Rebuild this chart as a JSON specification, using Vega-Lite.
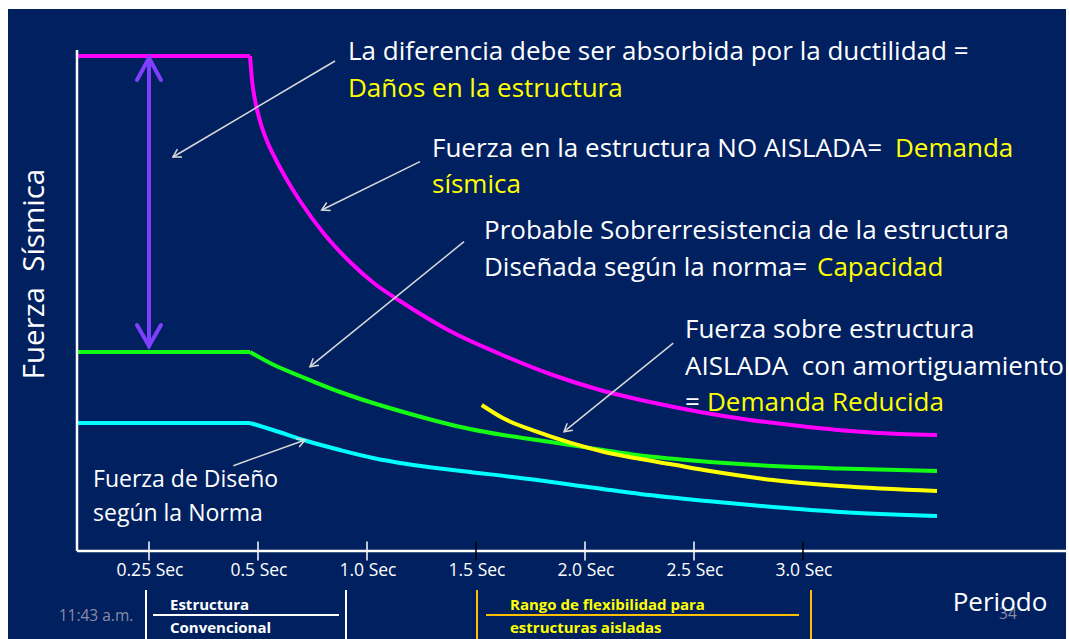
{
  "$schema": "https://vega.github.io/schema/vega-lite/v6.json",
  "width": 1058,
  "height": 630,
  "autosize": {"type": "none"},
  "padding": {"left": 8, "top": 9, "right": 3, "bottom": 0},
  "background": "#FFFFFF",
  "config": {
    "view": {"stroke": null, "fill": "#002060"},
    "text": {"font": "Open Sans"}
  },
  "datasets": {
    "curvas": [
      {"serie": "Demanda sísmica", "tramo": "meseta", "x": 0, "y": 99},
      {"serie": "Demanda sísmica", "tramo": "meseta", "x": 0.4817, "y": 99},
      {"serie": "Demanda sísmica", "tramo": "caida", "x": 0.4817, "y": 99},
      {"serie": "Demanda sísmica", "tramo": "caida", "x": 0.4862, "y": 94.2},
      {"serie": "Demanda sísmica", "tramo": "caida", "x": 0.4931, "y": 90.2},
      {"serie": "Demanda sísmica", "tramo": "caida", "x": 0.5092, "y": 86.0},
      {"serie": "Demanda sísmica", "tramo": "caida", "x": 0.5413, "y": 82.0},
      {"serie": "Demanda sísmica", "tramo": "caida", "x": 0.578, "y": 78.6},
      {"serie": "Demanda sísmica", "tramo": "caida", "x": 0.633, "y": 74.2},
      {"serie": "Demanda sísmica", "tramo": "caida", "x": 0.6927, "y": 70.0},
      {"serie": "Demanda sísmica", "tramo": "caida", "x": 0.8073, "y": 63.2},
      {"serie": "Demanda sísmica", "tramo": "caida", "x": 0.922, "y": 57.8},
      {"serie": "Demanda sísmica", "tramo": "caida", "x": 1.0367, "y": 53.4},
      {"serie": "Demanda sísmica", "tramo": "caida", "x": 1.1514, "y": 50.0},
      {"serie": "Demanda sísmica", "tramo": "caida", "x": 1.3807, "y": 44.0},
      {"serie": "Demanda sísmica", "tramo": "caida", "x": 1.6101, "y": 39.4},
      {"serie": "Demanda sísmica", "tramo": "caida", "x": 1.8394, "y": 35.4},
      {"serie": "Demanda sísmica", "tramo": "caida", "x": 2.0688, "y": 32.2},
      {"serie": "Demanda sísmica", "tramo": "caida", "x": 2.2982, "y": 29.8},
      {"serie": "Demanda sísmica", "tramo": "caida", "x": 2.5275, "y": 27.8},
      {"serie": "Demanda sísmica", "tramo": "caida", "x": 2.7569, "y": 26.2},
      {"serie": "Demanda sísmica", "tramo": "caida", "x": 2.9862, "y": 25.0},
      {"serie": "Demanda sísmica", "tramo": "caida", "x": 3.2156, "y": 24.0},
      {"serie": "Demanda sísmica", "tramo": "caida", "x": 3.445, "y": 23.4},
      {"serie": "Demanda sísmica", "tramo": "caida", "x": 3.6147, "y": 23.2},

      {"serie": "Capacidad", "tramo": "meseta", "x": 0, "y": 39.8},
      {"serie": "Capacidad", "tramo": "meseta", "x": 0.4817, "y": 39.8},
      {"serie": "Capacidad", "tramo": "caida", "x": 0.4817, "y": 39.8},
      {"serie": "Capacidad", "tramo": "caida", "x": 0.5688, "y": 37.3},
      {"serie": "Capacidad", "tramo": "caida", "x": 0.6927, "y": 35.0},
      {"serie": "Capacidad", "tramo": "caida", "x": 0.8761, "y": 31.8},
      {"serie": "Capacidad", "tramo": "caida", "x": 1.0275, "y": 29.6},
      {"serie": "Capacidad", "tramo": "caida", "x": 1.1835, "y": 27.6},
      {"serie": "Capacidad", "tramo": "caida", "x": 1.3349, "y": 25.8},
      {"serie": "Capacidad", "tramo": "caida", "x": 1.4725, "y": 24.4},
      {"serie": "Capacidad", "tramo": "caida", "x": 1.6239, "y": 23.2},
      {"serie": "Capacidad", "tramo": "caida", "x": 1.7798, "y": 22.2},
      {"serie": "Capacidad", "tramo": "caida", "x": 1.9312, "y": 21.2},
      {"serie": "Capacidad", "tramo": "caida", "x": 2.0826, "y": 20.2},
      {"serie": "Capacidad", "tramo": "caida", "x": 2.2385, "y": 19.2},
      {"serie": "Capacidad", "tramo": "caida", "x": 2.3899, "y": 18.5},
      {"serie": "Capacidad", "tramo": "caida", "x": 2.5734, "y": 17.8},
      {"serie": "Capacidad", "tramo": "caida", "x": 2.8624, "y": 17.0},
      {"serie": "Capacidad", "tramo": "caida", "x": 3.1697, "y": 16.5},
      {"serie": "Capacidad", "tramo": "caida", "x": 3.6147, "y": 16.0},

      {"serie": "Diseño", "tramo": "meseta", "x": 0, "y": 25.6},
      {"serie": "Diseño", "tramo": "meseta", "x": 0.4817, "y": 25.6},
      {"serie": "Diseño", "tramo": "caida", "x": 0.4817, "y": 25.6},
      {"serie": "Diseño", "tramo": "caida", "x": 0.5688, "y": 24.2},
      {"serie": "Diseño", "tramo": "caida", "x": 0.7248, "y": 22.0},
      {"serie": "Diseño", "tramo": "caida", "x": 0.8761, "y": 20.2},
      {"serie": "Diseño", "tramo": "caida", "x": 1.0275, "y": 18.6},
      {"serie": "Diseño", "tramo": "caida", "x": 1.1835, "y": 17.4},
      {"serie": "Diseño", "tramo": "caida", "x": 1.3349, "y": 16.5},
      {"serie": "Diseño", "tramo": "caida", "x": 1.4725, "y": 15.8},
      {"serie": "Diseño", "tramo": "caida", "x": 1.7798, "y": 14.2},
      {"serie": "Diseño", "tramo": "caida", "x": 1.945, "y": 13.2},
      {"serie": "Diseño", "tramo": "caida", "x": 2.2523, "y": 11.4},
      {"serie": "Diseño", "tramo": "caida", "x": 2.5596, "y": 10.0},
      {"serie": "Diseño", "tramo": "caida", "x": 2.8624, "y": 8.8},
      {"serie": "Diseño", "tramo": "caida", "x": 3.1697, "y": 7.8},
      {"serie": "Diseño", "tramo": "caida", "x": 3.6147, "y": 7.0},

      {"serie": "Demanda reducida", "tramo": "caida", "x": 1.5261, "y": 29.2},
      {"serie": "Demanda reducida", "tramo": "caida", "x": 1.6252, "y": 26.54},
      {"serie": "Demanda reducida", "tramo": "caida", "x": 1.7784, "y": 23.86},
      {"serie": "Demanda reducida", "tramo": "caida", "x": 1.9312, "y": 21.66},
      {"serie": "Demanda reducida", "tramo": "caida", "x": 2.0839, "y": 19.86},
      {"serie": "Demanda reducida", "tramo": "caida", "x": 2.2372, "y": 18.54},
      {"serie": "Demanda reducida", "tramo": "caida", "x": 2.3899, "y": 17.4},
      {"serie": "Demanda reducida", "tramo": "caida", "x": 2.5734, "y": 16.0},
      {"serie": "Demanda reducida", "tramo": "caida", "x": 2.8624, "y": 14.2},
      {"serie": "Demanda reducida", "tramo": "caida", "x": 3.1697, "y": 13.0},
      {"serie": "Demanda reducida", "tramo": "caida", "x": 3.6147, "y": 12.0}
    ],
    "ejes": [
      {"x": 0, "y": 0, "x2": 0, "y2": 100.2},
      {"x": 0, "y": 0, "x2": 4.2064, "y2": 0}
    ],
    "flechas": [
      {"tipo": "doble", "id": "d0", "o": 0, "x": 0.25, "y": 98.6},
      {"tipo": "doble", "id": "d0", "o": 1, "x": 0.25, "y": 41.0},
      {"tipo": "doble", "id": "d1", "o": 0, "x": 0.2083, "y": 94.2},
      {"tipo": "doble", "id": "d1", "o": 1, "x": 0.25, "y": 98.6},
      {"tipo": "doble", "id": "d1", "o": 2, "x": 0.2775, "y": 94.2},
      {"tipo": "doble", "id": "d2", "o": 0, "x": 0.2083, "y": 45.2},
      {"tipo": "doble", "id": "d2", "o": 1, "x": 0.25, "y": 41.0},
      {"tipo": "doble", "id": "d2", "o": 2, "x": 0.2775, "y": 45.2},

      {"tipo": "nota", "id": "a1", "o": 0, "x": 0.8532, "y": 98.0},
      {"tipo": "nota", "id": "a1", "o": 1, "x": 0.305, "y": 78.8},
      {"tipo": "nota", "id": "a1h", "o": 0, "x": 0.3257, "y": 78.82},
      {"tipo": "nota", "id": "a1h", "o": 1, "x": 0.305, "y": 78.8},
      {"tipo": "nota", "id": "a1h", "o": 2, "x": 0.3151, "y": 80.36},

      {"tipo": "nota", "id": "a2", "o": 0, "x": 1.2431, "y": 77.86},
      {"tipo": "nota", "id": "a2", "o": 1, "x": 0.7922, "y": 68.2},
      {"tipo": "nota", "id": "a2h", "o": 0, "x": 0.8335, "y": 68.08},
      {"tipo": "nota", "id": "a2h", "o": 1, "x": 0.7922, "y": 68.2},
      {"tipo": "nota", "id": "a2h", "o": 2, "x": 0.8151, "y": 69.7},

      {"tipo": "nota", "id": "a3", "o": 0, "x": 1.445, "y": 61.86},
      {"tipo": "nota", "id": "a3", "o": 1, "x": 0.7385, "y": 36.86},
      {"tipo": "nota", "id": "a3h", "o": 0, "x": 0.7794, "y": 37.14},
      {"tipo": "nota", "id": "a3h", "o": 1, "x": 0.7385, "y": 36.86},
      {"tipo": "nota", "id": "a3h", "o": 2, "x": 0.7532, "y": 38.54},

      {"tipo": "nota", "id": "a4", "o": 0, "x": 2.405, "y": 41.56},
      {"tipo": "nota", "id": "a4", "o": 1, "x": 1.9037, "y": 23.86},
      {"tipo": "nota", "id": "a4h", "o": 0, "x": 1.9445, "y": 24.14},
      {"tipo": "nota", "id": "a4h", "o": 1, "x": 1.9037, "y": 23.86},
      {"tipo": "nota", "id": "a4h", "o": 2, "x": 1.9183, "y": 25.54},

      {"tipo": "nota", "id": "a5", "o": 0, "x": 0.4434, "y": 17.06},
      {"tipo": "nota", "id": "a5", "o": 1, "x": 0.7156, "y": 22.2},
      {"tipo": "nota", "id": "a5h", "o": 0, "x": 0.6748, "y": 22.52},
      {"tipo": "nota", "id": "a5h", "o": 1, "x": 0.7156, "y": 22.2},
      {"tipo": "nota", "id": "a5h", "o": 2, "x": 0.689, "y": 20.82}
    ],
    "marcas": [
      {"x": 0.25, "y": 0, "t": "0.25 Sec"},
      {"x": 0.5, "y": 0, "t": "0.5 Sec"},
      {"x": 1.0, "y": 0, "t": "1.0 Sec"},
      {"x": 1.5, "y": 0, "t": "1.5 Sec"},
      {"x": 2.0, "y": 0, "t": "2.0 Sec"},
      {"x": 2.5, "y": 0, "t": "2.5 Sec"},
      {"x": 3.0, "y": 0, "t": "3.0 Sec"}
    ],
    "rangos": [
      {"k": "convencional", "x": 0.2396, "x2": 0.2396, "y": -7.8, "y2": -17.6},
      {"k": "convencional", "x": 0.9037, "x2": 0.9037, "y": -7.8, "y2": -17.6},
      {"k": "convencional", "x": 0.2592, "x2": 0.8716, "y": -12.8, "y2": -12.8},
      {"k": "aislada", "x": 1.5046, "x2": 1.5046, "y": -7.8, "y2": -17.6},
      {"k": "aislada", "x": 3.0367, "x2": 3.0367, "y": -7.8, "y2": -17.6},
      {"k": "aislada", "x": 1.5459, "x2": 2.9817, "y": -12.8, "y2": -12.8}
    ],
    "notas": [
      {"x": 0.9128, "y": 99.8, "t": "La diferencia debe ser absorbida por la ductilidad =", "c": "b"},
      {"x": 0.9128, "y": 92.4, "t": "Daños en la estructura", "c": "a"},
      {"x": 1.2982, "y": 80.4, "t": "Fuerza en la estructura NO AISLADA=", "c": "b"},
      {"x": 3.422, "y": 80.4, "t": "Demanda", "c": "a"},
      {"x": 1.2982, "y": 73.2, "t": "sísmica", "c": "a"},
      {"x": 1.5367, "y": 64.0, "t": "Probable Sobrerresistencia de la estructura", "c": "b"},
      {"x": 1.5367, "y": 56.6, "t": "Diseñada según la norma=", "c": "b"},
      {"x": 3.0642, "y": 56.6, "t": "Capacidad", "c": "a"},
      {"x": 2.4587, "y": 44.2, "t": "Fuerza sobre estructura", "c": "b"},
      {"x": 2.4587, "y": 36.8, "t": "AISLADA\u00a0 con amortiguamiento", "c": "b"},
      {"x": 2.4587, "y": 29.6, "t": "=", "c": "b"},
      {"x": 2.5596, "y": 29.6, "t": "Demanda Reducida", "c": "a"}
    ],
    "norma": [
      {"x": 0.0556, "y": 14.2, "t": "Fuerza de Diseño"},
      {"x": 0.0556, "y": 7.4, "t": "según la Norma"}
    ],
    "rotulos": [
      {"x": 0.2982, "y": -10.7, "t": "Estructura", "c": "b"},
      {"x": 0.2982, "y": -15.4, "t": "Convencional", "c": "b"},
      {"x": 1.656, "y": -10.7, "t": "Rango de flexibilidad para", "c": "a"},
      {"x": 1.656, "y": -15.4, "t": "estructuras aisladas", "c": "a"}
    ],
    "titulos": [
      {"x": -0.1458, "y": 55.4, "t": "Fuerza\u00a0 Sísmica", "eje": "y"},
      {"x": 3.9037, "y": -10.4, "t": "Periodo", "eje": "x"}
    ],
    "pie": [
      {"x": 0.066, "y": -13.0, "t": "11:43 a.m."},
      {"x": 3.94, "y": -12.6, "t": "34"}
    ]
  },
  "encoding": {
    "x": {
      "field": "x",
      "type": "quantitative",
      "axis": null,
      "scale": {"type": "linear", "domain": [-0.2396, 0.25, 0.5, 4.2064], "range": [0, 141, 250, 1058], "nice": false, "zero": false}
    },
    "y": {
      "field": "y",
      "type": "quantitative",
      "axis": null,
      "scale": {"domain": [-17.6, 108.4], "nice": false, "zero": false}
    }
  },
  "layer": [
    {
      "data": {"name": "curvas"},
      "mark": {"type": "line", "strokeWidth": 4, "interpolate": "monotone", "strokeCap": "butt"},
      "encoding": {
        "detail": [{"field": "serie"}, {"field": "tramo"}],
        "color": {
          "field": "serie",
          "type": "nominal",
          "legend": null,
          "scale": {
            "domain": ["Demanda sísmica", "Capacidad", "Diseño", "Demanda reducida"],
            "range": ["#FF00FF", "#14FF14", "#00FFFF", "#FFFF00"]
          }
        }
      }
    },
    {
      "data": {"name": "ejes"},
      "mark": {"type": "rule", "color": "#FFFFFF", "strokeWidth": 2.5},
      "encoding": {
        "x2": {"field": "x2"},
        "y2": {"field": "y2"}
      }
    },
    {
      "data": {"name": "marcas"},
      "mark": {"type": "tick", "orient": "vertical", "size": 19, "thickness": 1.5, "opacity": 1},
      "encoding": {
        "color": {
          "condition": {"test": "datum.x == 1.5 || datum.x == 3", "value": "#000000"},
          "value": "#FFFFFF"
        }
      }
    },
    {
      "data": {"name": "marcas"},
      "mark": {"type": "text", "fontSize": 17.5, "color": "#FFFFFF", "align": "center", "baseline": "middle", "dy": 20, "dx": 1},
      "encoding": {
        "text": {"field": "t"}
      }
    },
    {
      "data": {"name": "flechas"},
      "transform": [{"filter": "datum.tipo == 'doble'"}],
      "mark": {"type": "line", "strokeWidth": 4, "color": "#7F3FFF", "strokeCap": "round", "strokeJoin": "miter"},
      "encoding": {
        "detail": {"field": "id"},
        "order": {"field": "o"}
      }
    },
    {
      "data": {"name": "flechas"},
      "transform": [{"filter": "datum.tipo == 'nota'"}],
      "mark": {"type": "line", "strokeWidth": 1.5, "color": "#D9D9D9"},
      "encoding": {
        "detail": {"field": "id"},
        "order": {"field": "o"}
      }
    },
    {
      "data": {"name": "rangos"},
      "mark": {"type": "rule", "strokeWidth": 2},
      "encoding": {
        "x2": {"field": "x2"},
        "y2": {"field": "y2"},
        "color": {
          "condition": {"test": "datum.k == 'aislada'", "value": "#FFC000"},
          "value": "#FFFFFF"
        }
      }
    },
    {
      "data": {"name": "notas"},
      "mark": {"type": "text", "fontSize": 26, "align": "left", "baseline": "middle", "clip": true},
      "encoding": {
        "text": {"field": "t"},
        "color": {
          "condition": {"test": "datum.c == 'a'", "value": "#FFFF00"},
          "value": "#FFFFFF"
        }
      }
    },
    {
      "data": {"name": "norma"},
      "mark": {"type": "text", "fontSize": 23, "align": "left", "baseline": "middle", "color": "#FFFFFF"},
      "encoding": {
        "text": {"field": "t"}
      }
    },
    {
      "data": {"name": "rotulos"},
      "mark": {"type": "text", "fontSize": 15, "fontWeight": "bold", "align": "left", "baseline": "middle"},
      "encoding": {
        "text": {"field": "t"},
        "color": {
          "condition": {"test": "datum.c == 'a'", "value": "#FFFF00"},
          "value": "#FFFFFF"
        }
      }
    },
    {
      "data": {"name": "pie"},
      "mark": {"type": "text", "fontSize": 15.5, "align": "center", "baseline": "middle", "color": "#8C8CA6"},
      "encoding": {
        "text": {"field": "t"}
      }
    },
    {
      "data": {"name": "titulos"},
      "mark": {"type": "text", "fontSize": 29.5, "align": "center", "baseline": "middle", "color": "#FFFFFF"},
      "encoding": {
        "text": {"field": "t"},
        "size": {"condition": {"test": "datum.eje == 'x'", "value": 26}, "value": 29.5},
        "angle": {"condition": {"test": "datum.eje == 'y'", "value": 270}, "value": 0}
      }
    }
  ]
}
